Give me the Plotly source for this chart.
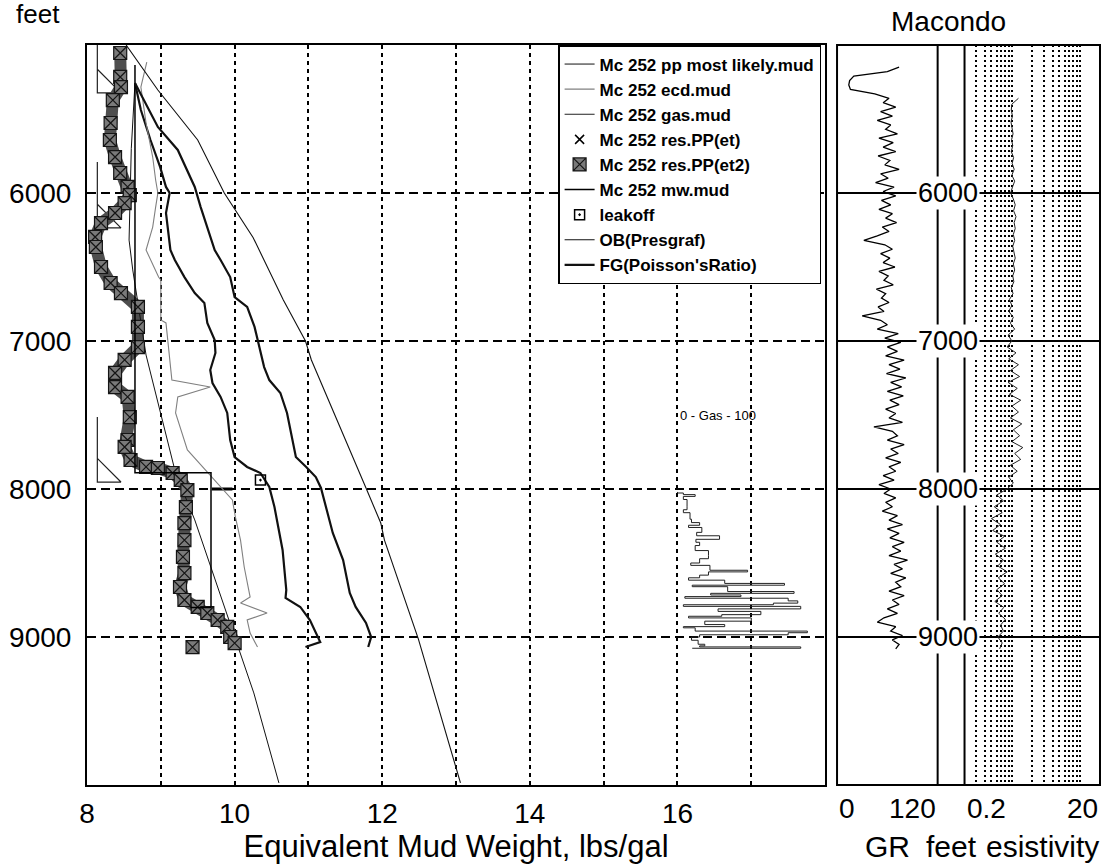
import math
import plotly.graph_objects as go

# ---------------- data ----------------
depth_ticks = [6000, 7000, 8000, 9000]
emw_tickvals = [8, 9, 10, 11, 12, 13, 14, 15, 16, 17, 18]
emw_ticktext = ["8", "", "10", "", "12", "", "14", "", "16", "", ""]

# Mc 252 res.PP(et2) - boxed markers
pp_et2_emw = [8.45, 8.45, 8.46, 8.35, 8.32, 8.31, 8.38, 8.45, 8.55, 8.58, 8.51, 8.38, 8.19, 8.11,
              8.12, 8.19, 8.32, 8.46, 8.69, 8.69, 8.69, 8.51, 8.38, 8.38, 8.55, 8.58, 8.55, 8.51,
              8.59, 8.80, 8.96, 9.16, 9.27, 9.36, 9.34, 9.32, 9.32, 9.30, 9.32, 9.26, 9.32, 9.50,
              9.63, 9.77, 9.90, 9.94, 10.00]
pp_et2_depth = [5054, 5216, 5284, 5372, 5527, 5642, 5757, 5865, 5959, 6014, 6068, 6135, 6203, 6297,
                6365, 6500, 6608, 6676, 6770, 6905, 7041, 7128, 7216, 7311, 7378, 7514, 7669, 7716,
                7804, 7851, 7858, 7892, 7939, 8007, 8122, 8230, 8345, 8459, 8568, 8662, 8750, 8797,
                8838, 8885, 8932, 9000, 9041]
pp_et2_extra_emw = [9.43]
pp_et2_extra_depth = [9068]

# Mc 252 ecd.mud (thin grey)
ecd_emw = [8.81, 8.73, 8.80, 8.89, 8.93, 8.96, 8.93, 8.89, 8.80, 8.97, 9.00, 9.00, 9.07, 9.15,
           9.67, 9.23, 9.20, 9.36, 9.97, 10.01, 10.08, 10.13, 10.21, 10.08, 10.44, 10.17, 10.21, 10.31]
ecd_depth = [5115, 5284, 5527, 5757, 5912, 6000, 6095, 6230, 6385, 6568, 6588, 6858, 6878, 7264,
             7311, 7378, 7486, 7736, 8074, 8189, 8345, 8527, 8730, 8770, 8838, 8885, 8973, 9068]

# Mc 252 pp most likely.mud (thin line)
ppml_emw = [8.65, 8.60, 8.57, 8.62, 8.80, 9.09, 9.20, 9.46, 10.00, 10.26, 10.60]
ppml_depth = [5257, 5700, 6318, 6520, 7095, 7669, 7892, 8209, 9000, 9378, 9986]

# FG(Poisson'sRatio) (thick line, right)
fg_emw = [8.65, 8.96, 9.23, 9.46, 9.54, 9.73, 9.81, 9.94, 10.00, 10.17, 10.27, 10.35, 10.40, 10.47,
          10.62, 10.71, 10.79, 10.83, 10.97, 11.10, 11.17, 11.24, 11.33, 11.47, 11.56, 11.64, 11.78,
          11.85, 11.81]
fg_depth = [5257, 5554, 5709, 5959, 6095, 6385, 6453, 6568, 6703, 6770, 6905, 7061, 7176, 7264,
            7351, 7486, 7669, 7784, 7851, 7919, 7993, 8122, 8297, 8480, 8703, 8797, 8905, 9000, 9068]

# second thick curve (no legend entry)
mid_emw = [8.65, 8.73, 8.86, 8.99, 9.07, 9.12, 9.07, 9.13, 9.19, 9.32, 9.46, 9.59, 9.63, 9.73,
           9.74, 9.67, 9.70, 9.81, 9.90, 9.94, 10.00, 10.17, 10.35, 10.47, 10.54, 10.59, 10.65,
           10.70, 10.69, 10.89, 11.02, 11.16, 10.96]
mid_depth = [5257, 5439, 5642, 5824, 5959, 6000, 6135, 6385, 6453, 6568, 6676, 6743, 6878, 6993,
             7081, 7196, 7284, 7378, 7486, 7669, 7784, 7851, 7892, 7986, 8122, 8257, 8412, 8682,
             8736, 8797, 8885, 9034, 9068]

# OB(Presgraf)
ob_emw = [8.53, 8.96, 9.50, 9.86, 10.25, 10.66, 10.96, 11.04, 11.78, 11.98, 12.03, 12.49, 13.06]
ob_depth = [5000, 5304, 5642, 6000, 6300, 6723, 7000, 7128, 7993, 8230, 8345, 9014, 9986]

# Mc 252 mw.mud (step)
mw_emw = [8.65, 8.65, 9.68, 9.68, 9.40]
mw_depth = [5135, 7890, 7890, 8800, 8800]
fit_emw = [9.69, 9.97]
fit_depth = [8000, 8000]

# leakoff
leakoff_emw = [10.35]
leakoff_depth = [7940]

# casing shoes
casing_top = [5000, 5790, 7514]
casing_shoe = [5324, 6236, 7953]

# Gas (units, 0-100 track between 16 and 17)
gas_depth = [8020, 8027, 8038, 8050, 8071, 8116, 8140, 8160, 8204, 8227, 8245, 8260, 8293, 8316,
             8340, 8360, 8382, 8416, 8449, 8471, 8500, 8516, 8549, 8560, 8582, 8600, 8616, 8638,
             8650, 8660, 8693, 8705, 8716, 8727, 8738, 8756, 8771, 8782, 8793, 8810, 8827, 8849,
             8860, 8871, 8893, 8916, 8930, 8938, 8960, 8971, 8985, 9000, 9022, 9049, 9060, 9067, 9076]
gas_units = [0, 8, 24, 8, 13, 13, 8, 17, 19, 30, 15, 33, 26, 57,
             25, 30, 24, 42, 42, 30, 18, 44, 95, 42, 30, 15, 64, 145,
             20, 68, 158, 45, 86, 10, 150, 163, 130, 8, 167, 55, 113, 60,
             15, 100, 37, 64, 8, 24, 176, 150, 30, 19, 28, 37, 30, 167, 20]

# Gamma ray (API, 0-120)
gr_depth = [5150, 5180, 5210, 5240, 5270, 5300, 5330, 5360, 5390, 5420, 5450, 5480, 5510, 5540,
            5570, 5600, 5630, 5660, 5690, 5720, 5750, 5780, 5810, 5840, 5870, 5900, 5930, 5960,
            5990, 6020, 6050, 6080, 6110, 6140, 6170, 6200, 6230, 6260, 6290, 6320, 6350, 6380,
            6410, 6440, 6470, 6500, 6530, 6560, 6590, 6620, 6650, 6680, 6710, 6740, 6770, 6800,
            6830, 6860, 6890, 6920, 6950, 6980, 7010, 7040, 7070, 7100, 7130, 7160, 7190, 7220,
            7250, 7280, 7310, 7340, 7370, 7400, 7430, 7460, 7490, 7520, 7550, 7580, 7610, 7640,
            7670, 7700, 7730, 7760, 7790, 7820, 7850, 7880, 7910, 7940, 7970, 8000, 8030, 8060,
            8090, 8120, 8150, 8180, 8210, 8240, 8270, 8300, 8330, 8360, 8390, 8420, 8450, 8480,
            8510, 8540, 8570, 8600, 8630, 8660, 8690, 8720, 8750, 8780, 8810, 8840, 8870, 8900,
            8930, 8960, 8990, 9020, 9050, 9080]
gr_api = [74, 60, 20, 15, 14, 16, 45, 62, 55, 70, 52, 66, 48, 64,
          58, 72, 50, 67, 55, 70, 49, 63, 57, 74, 52, 61, 46, 68,
          55, 70, 53, 64, 50, 66, 58, 71, 54, 62, 48, 32, 57, 66,
          52, 63, 55, 69, 50, 61, 56, 67, 47, 58, 53, 62, 49, 56,
          30, 52, 60, 48, 73, 57, 76, 60, 72, 58, 80, 62, 75, 59,
          82, 64, 77, 60, 79, 63, 74, 58, 70, 62, 78, 44, 66, 72,
          60, 80, 64, 73, 58, 76, 62, 70, 55, 68, 50, 64, 56, 70,
          58, 66, 54, 72, 62, 78, 60, 74, 63, 80, 66, 76, 62, 84,
          68, 78, 64, 82, 70, 76, 62, 80, 66, 74, 60, 72, 56, 48,
          70, 64, 78, 66, 74, 70]

# Resistivity (ohm-m, log 0.2-20)
res_depth = [5360, 5400, 5440, 5480, 5520, 5560, 5600, 5640, 5680, 5720, 5760, 5800, 5840, 5880,
             5920, 5960, 6000, 6040, 6080, 6120, 6160, 6200, 6240, 6280, 6320, 6360, 6400, 6440,
             6480, 6520, 6560, 6600, 6640, 6680, 6720, 6760, 6800, 6840, 6880, 6920, 6960, 7000,
             7040, 7080, 7120, 7160, 7200, 7240, 7280, 7320, 7360, 7400, 7440, 7480, 7520, 7560,
             7600, 7640, 7680, 7720, 7760, 7800, 7840, 7880, 7920, 7960, 8000, 8040, 8080, 8120,
             8160, 8200, 8240, 8280, 8320, 8360, 8400, 8440, 8480, 8520, 8560, 8600, 8640, 8680,
             8720, 8760, 8800, 8840, 8880, 8920, 8960, 9000, 9040, 9080]
res_ohmm = [1.25, 1.0, 0.98, 1.02, 0.97, 1.0, 1.04, 0.99, 1.03, 0.98, 1.06, 1.01, 1.08, 1.0,
            1.1, 1.02, 0.96, 1.05, 1.12, 1.06, 1.15, 1.08, 1.12, 1.05, 1.1, 1.03, 1.08, 1.12,
            1.05, 1.1, 1.03, 1.07, 0.98, 1.04, 0.92, 1.0, 0.9, 1.05, 0.95, 1.1, 0.88, 1.0,
            0.85, 1.15, 0.9, 1.25, 0.95, 1.3, 0.88, 1.2, 0.92, 1.35, 1.0, 1.25, 0.95, 1.4,
            1.05, 1.3, 1.0, 1.45, 1.1, 1.35, 0.95, 1.2, 0.9, 1.05, 0.85, 0.6, 0.75, 0.55,
            0.72, 0.5, 0.68, 0.52, 0.78, 0.6, 0.8, 0.57, 0.75, 0.62, 0.85, 0.63, 0.78, 0.6,
            0.72, 0.56, 0.76, 0.64, 0.8, 0.68, 0.75, 0.62, 0.72, 0.66]
res_grid = [0.3, 0.4, 0.5, 0.6, 0.7, 0.8, 0.9, 1, 2, 3, 4, 5, 6, 7, 8, 9, 10]

# ---------------- style ----------------
FONT = "Liberation Sans, Arial, sans-serif"
W, H = 1109, 865
ML, MR, MT, MB = 83, 9, 45, 80
PW = W - ML - MR
PH = H - MT - MB


def px_x(p):
    return (p - ML) / PW


def px_y(p):
    return (H - MB - p) / PH


MAIN_DOM = [0, px_x(824)]
GR_DOM = [px_x(836), px_x(937)]
RES_DOM = [px_x(964), 1.0]
CASING_X = 8.14
TRI_W = 0.32
TRI_H = 160

fig = go.Figure()

# background / unlabeled curves
fig.add_trace(go.Scatter(x=mid_emw, y=mid_depth, mode="lines", line=dict(color="#111", width=2.2),
                         showlegend=False, xaxis="x", yaxis="y"))
cx, cy = [], []
for top, shoe in zip(casing_top, casing_shoe):
    cx += [CASING_X, CASING_X, CASING_X + TRI_W, CASING_X, None]
    cy += [top, shoe, shoe, shoe - TRI_H, None]
fig.add_trace(go.Scatter(x=cx, y=cy, mode="lines", line=dict(color="#222", width=1.2),
                         showlegend=False))
fig.add_trace(go.Scatter(x=fit_emw, y=fit_depth, mode="lines", line=dict(color="black", width=3),
                         showlegend=False))
fig.add_trace(go.Scatter(x=gr_api, y=gr_depth, mode="lines", line=dict(color="black", width=1.3),
                         showlegend=False, xaxis="x2", yaxis="y2"))
fig.add_trace(go.Scatter(x=res_ohmm, y=res_depth, mode="lines", line=dict(color="#222", width=1),
                         showlegend=False, xaxis="x3", yaxis="y2"))
# dark band under the boxed res.PP(et2) markers
fig.add_trace(go.Scatter(x=pp_et2_emw, y=pp_et2_depth, mode="lines",
                         line=dict(color="#4e4e4e", width=12), showlegend=False))

# legend traces (in legend order)
fig.add_trace(go.Scatter(x=ppml_emw, y=ppml_depth, mode="lines", line=dict(color="#111", width=1),
                         name="Mc 252 pp most likely.mud"))
fig.add_trace(go.Scatter(x=ecd_emw, y=ecd_depth, mode="lines", line=dict(color="#808080", width=1.1),
                         name="Mc 252 ecd.mud"))
fig.add_trace(go.Scatter(x=gas_units, y=gas_depth, mode="lines", line=dict(color="#222", width=1, shape="vh"),
                         name="Mc 252 gas.mud", xaxis="x4", yaxis="y"))
fig.add_trace(go.Scatter(x=[None], y=[None], mode="markers",
                         marker=dict(symbol="x-thin-open", size=9, color="black",
                                     line=dict(color="black", width=1.5)),
                         name="Mc 252 res.PP(et)"))
fig.add_trace(go.Scatter(x=pp_et2_emw + pp_et2_extra_emw, y=pp_et2_depth + pp_et2_extra_depth,
                         mode="markers",
                         marker=dict(symbol="square-x", size=13, color="#7a7a7a",
                                     line=dict(color="#151515", width=1.2)),
                         name="Mc 252 res.PP(et2)"))
fig.add_trace(go.Scatter(x=mw_emw, y=mw_depth, mode="lines", line=dict(color="black", width=1.5),
                         name="Mc 252 mw.mud"))
fig.add_trace(go.Scatter(x=leakoff_emw, y=leakoff_depth, mode="markers",
                         marker=dict(symbol="square-open-dot", size=10, color="black",
                                     line=dict(color="black", width=1.5)),
                         name="leakoff"))
fig.add_trace(go.Scatter(x=ob_emw, y=ob_depth, mode="lines", line=dict(color="#111", width=1.1),
                         name="OB(Presgraf)"))
fig.add_trace(go.Scatter(x=fg_emw, y=fg_depth, mode="lines", line=dict(color="#111", width=2.2),
                         name="FG(Poisson'sRatio)"))

grid_v = dict(showgrid=True, gridcolor="black", gridwidth=1.5, griddash="4px,4px")

fig.update_layout(
    width=W, height=H,
    margin=dict(l=ML, r=MR, t=MT, b=MB),
    paper_bgcolor="white", plot_bgcolor="white",
    font=dict(family=FONT, color="black", size=26),
    showlegend=True,
    legend=dict(x=px_x(820), xanchor="right", y=1, yanchor="top", bgcolor="white",
                bordercolor="black", borderwidth=1.5, itemwidth=30, tracegroupgap=0,
                font=dict(family=FONT, size=17, color="black", weight="bold")),
    xaxis=dict(domain=MAIN_DOM, range=[8, 18], tickmode="array", tickvals=emw_tickvals,
               ticktext=emw_ticktext, ticks="", zeroline=False, showline=True, mirror=True,
               linecolor="black", linewidth=2, tickfont=dict(size=28), anchor="y",
               ticklabelstandoff=2,
               title=dict(text="Equivalent Mud Weight, lbs/gal", font=dict(size=31), standoff=6),
               **grid_v),
    yaxis=dict(domain=[0, 1], range=[10000, 5000], tickmode="array", tickvals=depth_ticks,
               ticks="", zeroline=False, showline=True, mirror=True, linecolor="black",
               linewidth=2, tickfont=dict(size=28), anchor="x", ticklabelstandoff=8,
               showgrid=True, gridcolor="black", gridwidth=1.5, griddash="9px,5px"),
    xaxis4=dict(domain=MAIN_DOM, range=[-800, 200], overlaying="x", anchor="y", visible=False,
                showgrid=False, zeroline=False),
    xaxis2=dict(domain=GR_DOM, range=[0, 120], anchor="y2", showticklabels=False, ticks="",
                showgrid=False, zeroline=False, showline=False),
    xaxis3=dict(domain=RES_DOM, type="log", range=[math.log10(0.2), math.log10(20)], anchor="y2",
                tickmode="array", tickvals=res_grid, showticklabels=False, ticks="",
                showgrid=True, gridcolor="black", gridwidth=1.5, griddash="2px,3px",
                zeroline=False, showline=False),
    yaxis2=dict(domain=[0, 1], range=[10000, 5000], anchor="x2", tickmode="array",
                tickvals=depth_ticks, showticklabels=False, ticks="", zeroline=False,
                showgrid=True, gridcolor="black", gridwidth=1.5, showline=False),
)

# right panel frame and track separators
fig.add_shape(type="rect", xref="paper", yref="paper", x0=GR_DOM[0], x1=1, y0=0, y1=1,
              line=dict(color="black", width=2))
fig.add_shape(type="line", xref="x2 domain", yref="y2 domain", x0=1, x1=1, y0=0, y1=1,
              line=dict(color="black", width=2))
fig.add_shape(type="line", xref="x3 domain", yref="y2 domain", x0=0, x1=0, y0=0, y1=1,
              line=dict(color="black", width=2))

# texts
def note(text, x, y, xref="paper", yref="paper", xanchor="center", size=28, **kw):
    fig.add_annotation(text=text, x=x, y=y, xref=xref, yref=yref, xanchor=xanchor,
                       yanchor="middle", showarrow=False, font=dict(size=size), **kw)


note("feet", px_x(34), px_y(14), size=26)
note("Macondo", px_x(948), px_y(22), size=28)
for d in depth_ticks:
    note(str(d), px_x(947), d, yref="y2", size=27, bgcolor="white", borderpad=1)
ylab = px_y(808)
note("0", 0, ylab, xref="x2", xanchor="left")
note("120", 120, ylab, xref="x2", xanchor="right")
note("0.2", math.log10(0.2), ylab, xref="x3", xanchor="left")
note("20", math.log10(20), ylab, xref="x3", xanchor="right")
ytit = px_y(846)
note("GR", px_x(887), ytit, size=30)
note("esistivity", px_x(1042), ytit, size=30)
note("feet", px_x(951), ytit, size=30, bgcolor="white", borderpad=0)
fig.add_annotation(text="0 - Gas - 100", xref="x", yref="y", x=16.55, y=7500, showarrow=False,
                   xanchor="center", yanchor="middle",
                   font=dict(family="Liberation Sans Narrow, Liberation Sans, Arial", size=13))

fig.write_html("out.html", config={"displayModeBar": False},
               post_script="document.body.style.margin='0px';")
